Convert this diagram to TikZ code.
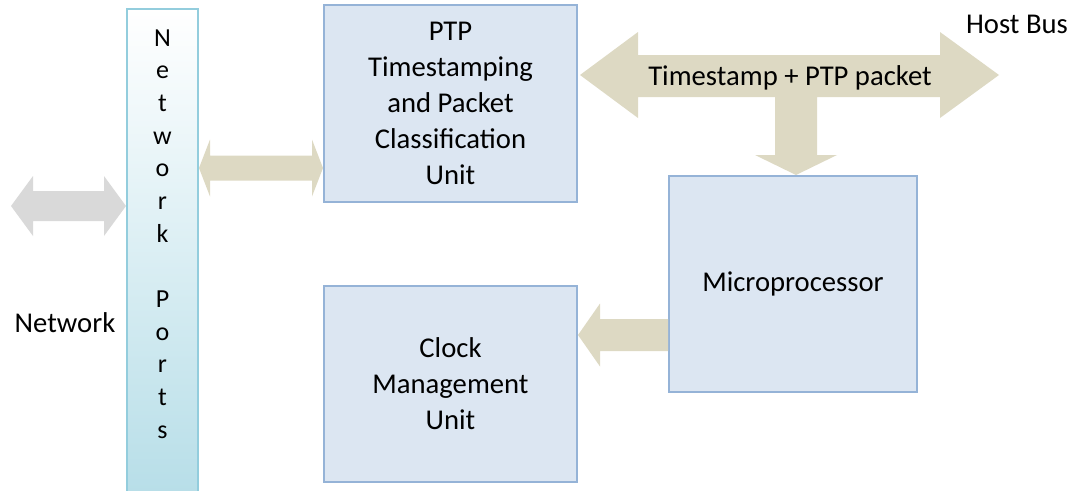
\documentclass[tikz,border=0pt]{standalone}
\usepackage{fontspec}
\setmainfont{Carlito}
\usetikzlibrary{calc}

\definecolor{boxfill}{HTML}{DCE6F2}
\definecolor{boxline}{HTML}{95B3D7}
\definecolor{portline}{HTML}{93CDDD}
\definecolor{portfill}{HTML}{B7DEE8}
\definecolor{busfill}{HTML}{DDD9C3}
\definecolor{netfill}{HTML}{D9D9D9}

% 双向粗箭头: 颜色, 左尖, 右尖, 箭头长, 箭头半宽, 杆半宽
\newcommand{\dblarrow}[6]{%
  \fill[#1] (#2) -- ($(#2)+(#4,-#5)$) -- ($(#2)+(#4,-#6)$) -- ($(#3)+(-#4,-#6)$)
    -- ($(#3)+(-#4,-#5)$) -- (#3) -- ($(#3)+(-#4,#5)$) -- ($(#3)+(-#4,#6)$)
    -- ($(#2)+(#4,#6)$) -- ($(#2)+(#4,#5)$) -- cycle;}

\tikzset{
  unitbox/.style={draw=boxline, line width=1.5pt, fill=boxfill, inner sep=0pt,
    align=center, font=\fontsize{21.5}{27}\selectfont},
  plainlabel/.style={inner sep=0pt, font=\fontsize{21.5}{27}\selectfont},
}

\begin{document}
\begin{tikzpicture}[x=0.75pt, y=-0.75pt]
    \useasboundingbox (0,0) rectangle (1078,490);

    % 网络端口竖条
    \node[draw=portline, line width=1.5pt, top color=white, bottom color=portfill,
          minimum width=53.25pt, minimum height=365pt, inner sep=0pt]
          (ports) at (162.5,252) {};
    \node[inner sep=0pt, align=center, font=\fontsize{19.5}{24.5}\selectfont]
          (portstext) at (162.5,234) {N\\e\\t\\w\\o\\r\\k\\\mbox{}\\P\\o\\r\\t\\s};

    % 三个功能模块
    \node[unitbox, minimum width=189.75pt, minimum height=147.75pt] (ptp) at (450.5,103.5)
          {PTP\\Timestamping\\and Packet\\Classification\\Unit};
    \node[unitbox, minimum width=189.75pt, minimum height=147pt] (clock) at (450.5,384)
          {Clock\\Management\\Unit};
    \node[unitbox, minimum width=186pt, minimum height=162pt] (micro) at (793,284)
          {Microprocessor};

    % 外部文字
    \node[plainlabel] (network) at (65,323) {Network};
    \node[plainlabel] (hostbus) at (1017,24) {Host Bus};

    % 网络 <-> 端口
    \coordinate (netend) at (11,206);
    \dblarrow{netfill}{netend}{ports.west |- netend}{22}{30}{15}

    % 端口 <-> PTP 模块
    \coordinate (linkrow) at (0,168);
    \dblarrow{busfill}{ports.east |- linkrow}{ptp.west |- linkrow}{11}{28.5}{12.5}

    % 主机总线 (T 形箭头, 指向微处理器)
    \fill[busfill] (580,75) -- (638,32) -- (638,55) -- (940,55) -- (940,32) -- (999,75)
        -- (940,118) -- (940,97) -- (817,97) -- (817,155) -- (837,155) -- (micro.north -| 796,0)
        -- (755,155) -- (775,155) -- (775,97) -- (638,97) -- (638,118) -- cycle;
    \node[plainlabel] (buslabel) at (790,78) {Timestamp + PTP packet};

    % 微处理器 -> 时钟管理
    \coordinate (ctlrow) at (0,335);
    \fill[busfill] (clock.east |- ctlrow) -- ($(clock.east |- ctlrow)+(22,-31.5)$)
        -- ($(clock.east |- ctlrow)+(22,-16)$) -- ($(micro.west |- ctlrow)+(0,-16)$)
        -- ($(micro.west |- ctlrow)+(0,16)$) -- ($(clock.east |- ctlrow)+(22,16)$)
        -- ($(clock.east |- ctlrow)+(22,31.5)$) -- cycle;
\end{tikzpicture}
\end{document}
